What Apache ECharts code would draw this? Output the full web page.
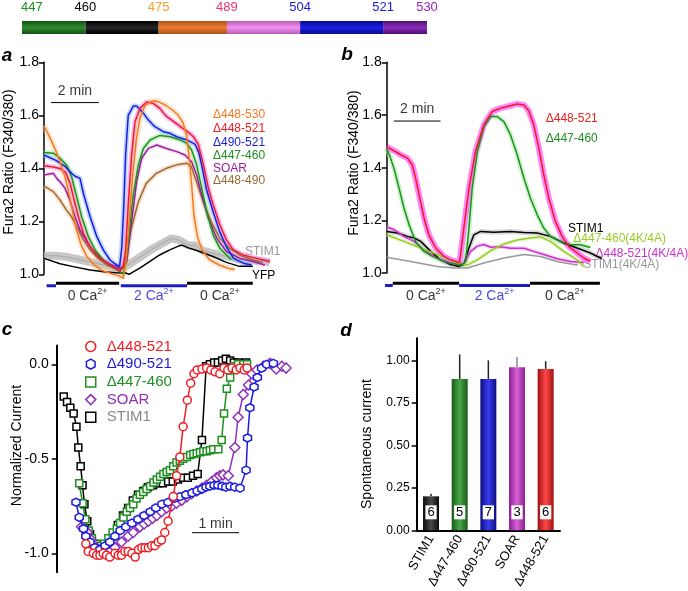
<!DOCTYPE html>
<html><head><meta charset="utf-8">
<script src="https://cdn.jsdelivr.net/npm/echarts@6/dist/echarts.min.js"></script>
<style>html,body{margin:0;padding:0;background:#fff}#c{width:688px;height:591px}</style>
</head><body><div id="c"></div>
<script>
// ================= DATA =================
// Domain map (residue boundaries)
const domainResidues = [447, 460, 475, 489, 504, 521, 530];

// Panel a: Fura2 ratio traces, [time (min), ratio]
const aOrange = [[0,1.56],[0.25,1.515],[0.5,1.465],[0.7,1.415],[0.9,1.36],[1.05,1.30],[1.2,1.235],[1.35,1.17],[1.55,1.11],[1.8,1.065],[2.1,1.035],[2.4,1.015],[2.8,1.003],[3.1,0.995],[3.3,0.985],[3.42,1.05],[3.55,1.2],[3.7,1.38],[3.85,1.51],[4.0,1.59],[4.2,1.635],[4.45,1.652],[4.65,1.655],[4.85,1.648],[5.1,1.636],[5.35,1.62],[5.6,1.6],[5.8,1.57],[5.95,1.52],[6.05,1.44],[6.15,1.34],[6.25,1.22],[6.4,1.14],[6.6,1.09],[6.9,1.055],[7.3,1.035],[7.7,1.022],[7.95,1.018]];
const aRed = [[0,1.41],[0.4,1.405],[0.7,1.398],[0.9,1.385],[1.08,1.345],[1.22,1.293],[1.43,1.217],[1.64,1.155],[1.92,1.104],[2.26,1.066],[2.61,1.042],[2.96,1.023],[3.17,1.012],[3.3,1.03],[3.4,1.09],[3.51,1.262],[3.65,1.45],[3.79,1.576],[4.0,1.626],[4.28,1.65],[4.55,1.645],[4.83,1.626],[5.1,1.596],[5.38,1.578],[5.67,1.558],[5.95,1.54],[6.22,1.52],[6.43,1.49],[6.64,1.413],[6.85,1.325],[7.05,1.262],[7.33,1.186],[7.6,1.13],[7.89,1.092],[8.3,1.073],[8.72,1.063],[9.14,1.054],[9.42,1.048]];
const aBlue = [[0,1.45],[0.5,1.43],[0.9,1.405],[1.15,1.381],[1.3,1.37],[1.5,1.362],[1.64,1.306],[1.92,1.217],[2.2,1.142],[2.47,1.092],[2.75,1.054],[3.03,1.035],[3.15,1.03],[3.24,1.10],[3.32,1.25],[3.4,1.45],[3.51,1.6],[3.72,1.635],[3.86,1.635],[4.0,1.622],[4.14,1.608],[4.35,1.582],[4.62,1.557],[4.97,1.538],[5.25,1.532],[5.53,1.519],[5.95,1.507],[6.3,1.49],[6.45,1.46],[6.6,1.4],[6.77,1.32],[7.05,1.235],[7.32,1.161],[7.6,1.104],[7.9,1.06],[8.3,1.042],[8.65,1.035]];
const aGreen = [[0,1.46],[0.39,1.457],[0.67,1.438],[0.94,1.412],[1.15,1.368],[1.36,1.293],[1.57,1.217],[1.85,1.142],[2.13,1.092],[2.47,1.054],[2.82,1.029],[3.17,1.01],[3.3,1.0],[3.4,1.04],[3.51,1.123],[3.62,1.22],[3.72,1.3],[3.93,1.413],[4.14,1.475],[4.42,1.507],[4.83,1.524],[5.25,1.519],[5.67,1.507],[5.95,1.494],[6.15,1.469],[6.36,1.413],[6.57,1.325],[6.78,1.236],[7.05,1.148],[7.33,1.098],[7.8,1.055]];
const aPurple = [[0,1.375],[0.39,1.381],[0.55,1.36],[0.67,1.349],[0.875,1.325],[1.08,1.28],[1.29,1.217],[1.5,1.167],[1.78,1.123],[2.13,1.079],[2.47,1.054],[2.82,1.035],[3.17,1.023],[3.35,1.03],[3.45,1.048],[3.65,1.199],[3.86,1.35],[4.07,1.438],[4.35,1.475],[4.7,1.488],[5.1,1.475],[5.53,1.463],[5.875,1.45],[6.15,1.425],[6.36,1.375],[6.57,1.3],[6.85,1.211],[7.2,1.136],[7.6,1.086],[8.17,1.06],[8.72,1.048],[9.2,1.035]];
const aBrown = [[0,1.333],[0.39,1.312],[0.67,1.28],[0.93,1.243],[1.15,1.217],[1.36,1.18],[1.64,1.13],[1.92,1.092],[2.26,1.06],[2.61,1.035],[2.96,1.023],[3.24,1.02],[3.35,1.03],[3.43,1.073],[3.64,1.174],[3.93,1.274],[4.26,1.343],[4.68,1.381],[5.1,1.40],[5.53,1.413],[5.95,1.419],[6.14,1.406],[6.35,1.35],[6.63,1.274],[6.97,1.199],[7.32,1.136],[7.74,1.098],[8.15,1.073],[8.7,1.054],[9.1,1.045]];
const aStim1 = [[0,1.07],[0.5,1.07],[1.0,1.065],[1.5,1.055],[2.0,1.045],[2.5,1.035],[3.0,1.025],[3.2,1.02],[3.5,1.035],[4.0,1.065],[4.5,1.095],[5.0,1.12],[5.3,1.135],[5.6,1.13],[6.0,1.11],[6.3,1.11],[6.6,1.09],[7.0,1.08],[7.5,1.07],[8.0,1.06],[8.5,1.055],[9.0,1.05],[9.4,1.045]];
const aYfp = [[0,1.06],[0.67,1.04],[1.22,1.029],[1.92,1.016],[2.5,1.01],[3.0,1.006],[3.4,1.005],[3.55,1.0],[3.7,1.008],[3.99,1.023],[4.4,1.048],[4.82,1.073],[5.24,1.092],[5.65,1.108],[5.75,1.11],[6.07,1.098],[6.49,1.086],[7.04,1.067],[7.6,1.045],[8.15,1.03],[8.7,1.03]];
// Panel a: bath solution protocol [start, end, Ca mM]
const caA = [[0.11,0.5,2],[0.5,3.13,0],[3.2,5.96,2],[5.96,8.7,0]];

// Panel b traces
const bRed = [[0,1.48],[0.3,1.465],[0.6,1.449],[0.89,1.436],[1.1,1.41],[1.24,1.36],[1.39,1.297],[1.6,1.209],[1.81,1.145],[2.1,1.095],[2.46,1.063],[2.74,1.05],[3.03,1.042],[3.12,1.04],[3.17,1.07],[3.31,1.171],[3.53,1.322],[3.81,1.461],[4.17,1.563],[4.53,1.613],[4.89,1.626],[5.31,1.635],[5.6,1.642],[5.89,1.638],[6.1,1.615],[6.31,1.563],[6.53,1.474],[6.74,1.373],[6.96,1.284],[7.24,1.196],[7.53,1.139],[7.81,1.101],[8.17,1.076],[8.46,1.057],[8.74,1.044]];
const bGreen = [[0,1.474],[0.15,1.44],[0.31,1.398],[0.53,1.322],[0.74,1.247],[0.96,1.183],[1.24,1.12],[1.6,1.082],[1.96,1.063],[2.31,1.05],[2.74,1.038],[3.03,1.032],[3.24,1.032],[3.39,1.044],[3.53,1.171],[3.67,1.322],[3.89,1.461],[4.17,1.556],[4.46,1.594],[4.74,1.594],[5.03,1.575],[5.31,1.525],[5.6,1.449],[5.89,1.36],[6.17,1.284],[6.46,1.221],[6.74,1.171],[7.03,1.139],[7.46,1.12],[7.89,1.107],[8.31,1.107],[8.74,1.097]];
const bStim1 = [[0,1.158],[0.46,1.152],[0.89,1.139],[1.17,1.133],[1.46,1.12],[1.89,1.082],[2.31,1.05],[2.74,1.032],[3.1,1.025],[3.31,1.032],[3.53,1.095],[3.74,1.145],[4.03,1.158],[4.6,1.155],[5.31,1.158],[5.89,1.154],[6.46,1.152],[7.03,1.139],[7.6,1.114],[8.17,1.095],[8.74,1.076],[9.24,1.054]];
const b447KA = [[0,1.145],[0.74,1.12],[1.46,1.095],[2.17,1.07],[2.74,1.05],[3.17,1.032],[3.46,1.03],[3.89,1.05],[4.46,1.085],[5.03,1.11],[5.6,1.125],[6.17,1.133],[6.6,1.137],[7.03,1.12],[7.6,1.082],[8.17,1.05],[8.46,1.025]];
const b448KA = [[0,1.175],[0.31,1.165],[0.74,1.139],[1.17,1.12],[1.6,1.088],[2.03,1.063],[2.46,1.044],[2.89,1.034],[3.31,1.035],[3.6,1.082],[3.89,1.102],[4.17,1.108],[4.46,1.098],[4.89,1.1],[5.31,1.094],[5.89,1.094],[6.31,1.082],[6.74,1.07],[7.31,1.054],[7.89,1.044],[8.46,1.04]];
const bStim1KA = [[0,1.06],[1.03,1.044],[2.17,1.025],[2.89,1.019],[3.46,1.019],[4.17,1.038],[5.03,1.057],[5.89,1.07],[6.6,1.063],[7.31,1.044],[8.03,1.032],[8.2,1.03]];
const caB = [[-0.07,0.26,2],[0.26,3.11,0],[3.11,6.15,2],[6.15,9.15,0]];

// Panel c: normalized current, [time (min), current]
const cStim1 = [[0.15,-0.17],[0.22,-0.20],[0.29,-0.23],[0.36,-0.26],[0.42,-0.33],[0.46,-0.44],[0.51,-0.54],[0.55,-0.64],[0.59,-0.74],[0.65,-0.83],[0.71,-0.90],[0.79,-0.95],[0.88,-0.98],[0.99,-0.99],[1.09,-0.96],[1.2,-0.90],[1.3,-0.85],[1.41,-0.80],[1.52,-0.76],[1.62,-0.72],[1.73,-0.69],[1.84,-0.67],[1.94,-0.65],[2.05,-0.64],[2.16,-0.63],[2.26,-0.63],[2.37,-0.62],[2.47,-0.62],[2.58,-0.61],[2.69,-0.60],[2.79,-0.60],[2.9,-0.59],[3.0,-0.58],[3.09,-0.40],[3.18,-0.01],[3.26,0.0],[3.35,0.01],[3.43,0.01],[3.52,0.02],[3.6,0.03],[3.69,0.02],[3.77,0.01],[3.86,0.01],[3.94,0.0],[4.03,0.01]];
const c447 = [[0.48,-0.63],[0.55,-0.735],[0.61,-0.82],[0.68,-0.88],[0.75,-0.92],[0.84,-0.95],[0.92,-0.96],[1.01,-0.95],[1.10,-0.92],[1.19,-0.89],[1.28,-0.87],[1.35,-0.84],[1.42,-0.81],[1.49,-0.78],[1.56,-0.76],[1.63,-0.74],[1.70,-0.71],[1.77,-0.69],[1.84,-0.675],[1.91,-0.66],[1.99,-0.645],[2.06,-0.625],[2.13,-0.61],[2.20,-0.595],[2.27,-0.58],[2.34,-0.57],[2.41,-0.56],[2.48,-0.54],[2.55,-0.52],[2.62,-0.51],[2.69,-0.50],[2.77,-0.49],[2.84,-0.48],[2.91,-0.475],[2.98,-0.47],[3.05,-0.465],[3.12,-0.46],[3.19,-0.46],[3.26,-0.455],[3.33,-0.45],[3.44,-0.45],[3.51,-0.40],[3.56,-0.26],[3.62,-0.13],[3.69,-0.07],[3.77,-0.01],[3.86,0.0],[3.97,0.0],[4.05,0.0]];
const c448 = [[0.62,-0.95],[0.67,-0.99],[0.78,-1.0],[0.85,-1.01],[0.92,-1.01],[0.99,-1.0],[1.06,-1.01],[1.13,-1.02],[1.24,-1.0],[1.31,-1.01],[1.38,-1.01],[1.45,-0.99],[1.52,-0.99],[1.60,-1.0],[1.67,-1.02],[1.74,-0.98],[1.81,-0.97],[1.88,-0.97],[1.95,-0.97],[2.02,-0.96],[2.09,-0.96],[2.16,-0.94],[2.23,-0.93],[2.30,-0.89],[2.37,-0.83],[2.48,-0.70],[2.55,-0.59],[2.62,-0.49],[2.69,-0.33],[2.78,-0.19],[2.85,-0.10],[2.92,-0.05],[2.99,-0.03],[3.09,-0.025],[3.19,-0.02],[3.28,-0.03],[3.37,-0.04],[3.47,-0.05],[3.56,-0.02],[3.64,-0.03],[3.73,-0.02],[3.82,-0.03],[3.90,-0.02],[3.99,-0.03],[4.05,-0.02]];
const c490 = [[0.41,-0.73],[0.48,-0.81],[0.57,-0.87],[0.62,-0.91],[0.71,-0.94],[0.81,-0.97],[0.92,-0.98],[1.03,-0.96],[1.13,-0.94],[1.24,-0.91],[1.35,-0.88],[1.47,-0.86],[1.60,-0.84],[1.73,-0.82],[1.86,-0.80],[1.99,-0.78],[2.11,-0.76],[2.24,-0.74],[2.37,-0.73],[2.50,-0.71],[2.62,-0.70],[2.75,-0.69],[2.88,-0.68],[2.99,-0.67],[3.09,-0.66],[3.18,-0.65],[3.26,-0.645],[3.35,-0.64],[3.43,-0.64],[3.52,-0.645],[3.60,-0.65],[3.69,-0.645],[3.79,-0.65],[3.90,-0.655],[4.03,-0.56],[4.06,-0.39],[4.11,-0.23],[4.20,-0.12],[4.27,-0.07],[4.36,-0.02],[4.47,0.0],[4.61,0.005]];
const cSoar = [[0.53,-0.86],[0.59,-0.875],[0.65,-0.89],[0.74,-0.93],[0.85,-0.97],[0.99,-0.98],[1.13,-0.99],[1.24,-0.97],[1.38,-0.94],[1.52,-0.91],[1.63,-0.89],[1.77,-0.86],[1.86,-0.845],[1.95,-0.83],[2.04,-0.815],[2.13,-0.80],[2.23,-0.78],[2.34,-0.76],[2.45,-0.75],[2.55,-0.735],[2.66,-0.72],[2.77,-0.70],[2.87,-0.685],[2.98,-0.67],[3.09,-0.655],[3.19,-0.64],[3.30,-0.62],[3.40,-0.60],[3.47,-0.59],[3.54,-0.585],[3.65,-0.59],[3.79,-0.44],[3.86,-0.28],[3.97,-0.16],[4.08,-0.11],[4.15,-0.05],[4.26,-0.03],[4.40,-0.01],[4.54,0.005],[4.67,-0.025],[4.79,-0.01],[4.88,-0.02]];

// Panel d: spontaneous current
const dCategories = ['STIM1', 'Δ447-460', 'Δ490-521', 'SOAR', 'Δ448-521'];
const dMean = [0.20, 0.89, 0.89, 0.96, 0.95];
const dErr = [0.015, 0.145, 0.11, 0.06, 0.045];
const dN = [6, 5, 7, 3, 6];

// ================= STYLE / LAYOUT =================
const FONT = '"Liberation Sans", Arial, Helvetica, sans-serif';
const BLUE = '#1c1cc8';
const segMid = ['#2e8b2e', '#262626', '#ee7c2e', '#f092ee', '#1e1ee8', '#8c2cbc'];
const segDark = ['#145214', '#000000', '#a95017', '#b85ab8', '#0a0a8a', '#4e1070'];
const labColors = ['#1e8c1e', '#000000', '#f5a030', '#f0306e', '#1a1ad6', '#1a1ad6', '#9b1fc0'];

function grad(dark, mid, vertical) {
  return new echarts.graphic.LinearGradient(0, 0, vertical ? 0 : 1, vertical ? 1 : 0,
    [{offset: 0, color: dark}, {offset: 0.5, color: mid}, {offset: 1, color: dark}]);
}

const series = [];

// ---- domain bar ----
series.push({
  type: 'custom', xAxisIndex: 0, yAxisIndex: 0, silent: true,
  data: domainResidues.slice(0, -1).map((r, i) => [r, domainResidues[i + 1], i]),
  renderItem(params, api) {
    const i = api.value(2);
    const p0 = api.coord([api.value(0), 1]);
    const p1 = api.coord([api.value(1), 0]);
    return {type: 'rect', shape: {x: p0[0], y: p0[1], width: p1[0] - p0[0], height: p1[1] - p0[1]},
      style: {fill: grad(segDark[i], segMid[i], true)}};
  }
});
series.push({
  type: 'custom', xAxisIndex: 0, yAxisIndex: 0, silent: true,
  data: domainResidues.map((r, i) => [r, i]),
  renderItem(params, api) {
    const i = api.value(1);
    const p = api.coord([api.value(0), 1]);
    return {type: 'text', x: p[0] + (i === 0 ? -1 : 0), y: p[1] - 13.5,
      style: {text: String(api.value(0)), fill: labColors[i], font: '13px ' + FONT,
        align: i === 0 ? 'left' : 'center', verticalAlign: 'middle'}};
  }
});

// ---- trace helper ----
function trace(ax, data, color, width, halo, haloWidth) {
  if (halo) series.push({type: 'line', xAxisIndex: ax, yAxisIndex: ax, data, symbol: 'none', clip: false, silent: true,
    lineStyle: {color: halo, width: haloWidth}, z: 2});
  series.push({type: 'line', xAxisIndex: ax, yAxisIndex: ax, data, symbol: 'none', clip: false, silent: true,
    lineStyle: {color, width}, z: 3});
}
trace(1, aStim1, '#a9a9a9', 1, 'rgba(185,185,185,0.8)', 8);
trace(1, aYfp, '#000', 1.5);
trace(1, aBrown, '#9a6a35', 1.5, 'rgba(245,195,160,0.5)', 5);
trace(1, aPurple, '#98209c', 1.5, 'rgba(235,165,235,0.4)', 4);
trace(1, aGreen, '#1f8f1f', 1.5, 'rgba(160,235,160,0.55)', 5);
trace(1, aBlue, '#1c1ce0', 1.5, 'rgba(130,175,255,0.5)', 5);
trace(1, aRed, '#ee1d23', 1.5, 'rgba(255,130,235,0.55)', 5);
trace(1, aOrange, '#f47a20', 1.5, 'rgba(250,195,150,0.4)', 6);

trace(2, bStim1KA, '#999', 1.5);
trace(2, bStim1, '#000', 1.5, 'rgba(190,190,190,0.6)', 5);
trace(2, b448KA, '#cc30cc', 1.5, 'rgba(235,150,235,0.45)', 4);
trace(2, b447KA, '#99cc22', 1.5, 'rgba(200,235,150,0.45)', 4);
trace(2, bGreen, '#1f8f1f', 1.5, 'rgba(160,235,160,0.55)', 5);
trace(2, bRed, '#f01d1d', 1.5, 'rgba(255,80,255,0.7)', 6);

// ---- Ca protocol bars ----
function caBars(ax, segs, yBlack, yBlue, yLabel) {
  segs.forEach(([s, e, c]) => {
    const y = c ? yBlue : yBlack;
    const col = c ? BLUE : '#000';
    series.push({type: 'line', xAxisIndex: ax, yAxisIndex: ax, data: [[s, y], [e, y]], clip: false, symbol: 'none', silent: true,
      lineStyle: {color: col, width: 3}, z: 5});
    if (e - s > 1) series.push({type: 'scatter', xAxisIndex: ax, yAxisIndex: ax, data: [[(s + e) / 2, yLabel]], clip: false,
      symbolSize: 0, silent: true,
      label: {show: true, position: 'inside', formatter: '{a|' + c + ' Ca}{s|2+}',
        rich: {a: {fontSize: 14, fontFamily: FONT, color: col, lineHeight: 18},
               s: {fontSize: 9, fontFamily: FONT, color: col, verticalAlign: 'top', lineHeight: 10}}}});
  });
}
caBars(1, caA, 0.966, 0.957, 0.918);
caBars(2, caB, 0.961, 0.953, 0.913);

// ---- scale bars ----
function scaleBar(ax, x0, len, y, yText, text) {
  series.push({type: 'line', xAxisIndex: ax, yAxisIndex: ax, data: [[x0, y], [x0 + len, y]], clip: false, symbol: 'none', silent: true,
    lineStyle: {color: '#000', width: 1}, z: 5});
  series.push({type: 'scatter', xAxisIndex: ax, yAxisIndex: ax, data: [[x0 + len / 2, yText]], clip: false, symbolSize: 0, silent: true,
    label: {show: true, position: 'inside', formatter: text, fontSize: 14, fontFamily: FONT, color: '#000'}});
}
scaleBar(1, 0.29, 2, 1.648, 1.692, '2 min');
scaleBar(2, 0.31, 2, 1.577, 1.624, '2 min');
scaleBar(3, 2.88, 1, -0.891, -0.845, '1 min');

// ---- panel c ----
const hexPath = 'path://M0,-10L8.66,-5L8.66,5L0,10L-8.66,5L-8.66,-5Z';
const cDefs = [
  {name: 'STIM1', data: cStim1, color: '#000', symbol: 'rect', size: 7},
  {name: 'Δ447-460', data: c447, color: '#1f8f1f', symbol: 'rect', size: 7},
  {name: 'SOAR', data: cSoar, color: '#9030b8', symbol: 'diamond', size: 10},
  {name: 'Δ490-521', data: c490, color: '#1c1ce0', symbol: hexPath, size: 8},
  {name: 'Δ448-521', data: c448, color: '#ee1d23', symbol: 'circle', size: 8}
];
cDefs.forEach((d, k) => series.push({
  type: 'line', name: d.name, xAxisIndex: 3, yAxisIndex: 3, data: d.data, clip: false,
  symbol: d.symbol, symbolSize: d.size, showSymbol: true, showAllSymbol: true,
  lineStyle: {color: d.color, width: 1.5}, itemStyle: {color: '#fff', borderColor: d.color, borderWidth: 1.5},
  z: 3 + k, silent: true
}));

// ---- panel d ----
const barEdge = ['#0a0a0a', '#1a5a1a', '#0c0c80', '#8a2090', '#a01010'];
const barMid = ['#4a4a4a', '#45a845', '#3c3cf0', '#d860d8', '#ff4848'];
series.push({
  type: 'bar', xAxisIndex: 4, yAxisIndex: 4, barWidth: 16, silent: true,
  data: dMean.map((v, i) => ({value: v, itemStyle: {color: grad(barEdge[i], barMid[i], false)}})),
  label: {show: true, position: 'insideBottom', distance: 11, formatter: p => String(dN[p.dataIndex]),
    backgroundColor: '#fff', padding: [1, 2, 0, 2], color: '#000', fontSize: 13, fontFamily: FONT}
});
series.push({
  type: 'custom', xAxisIndex: 4, yAxisIndex: 4, silent: true, z: 1,
  data: dMean.map((v, i) => [i, v, v + dErr[i]]),
  renderItem(params, api) {
    const a = api.coord([api.value(0), api.value(1)]);
    const b = api.coord([api.value(0), api.value(2)]);
    return {type: 'line', shape: {x1: a[0], y1: a[1], x2: b[0], y2: b[1]},
      style: {stroke: params.dataIndex === 3 ? '#888' : '#222', lineWidth: 1.5}};
  }
});

// ---- axes ----
const axLine = {show: true, lineStyle: {color: '#000', width: 1.5}};
const tick = {show: true, inside: false, length: 5, lineStyle: {color: '#000', width: 1.5}};
function fura(grid) {
  return {gridIndex: grid, type: 'value', min: 1.0, max: 1.8, interval: 0.2,
    axisLine: axLine, axisTick: tick, splitLine: {show: false},
    axisLabel: {fontSize: 14, fontFamily: FONT, color: '#000', margin: 5, formatter: v => v.toFixed(1)}};
}

const option = {
  animation: false,
  backgroundColor: '#fff',
  textStyle: {fontFamily: FONT},
  grid: [
    {left: 22, top: 21, width: 405, height: 13},
    {left: 44, top: 62.3, width: 240, height: 212},
    {left: 386.7, top: 62.3, width: 233, height: 210.7},
    {left: 56.7, top: 345.4, width: 235, height: 226.8},
    {left: 416.7, top: 338.3, width: 143.3, height: 194.4}
  ],
  xAxis: [
    {gridIndex: 0, type: 'value', min: 447, max: 530, show: false},
    {gridIndex: 1, type: 'value', min: 0, max: 10, show: false},
    {gridIndex: 2, type: 'value', min: 0, max: 10, show: false},
    {gridIndex: 3, type: 'value', min: 0, max: 5, show: false},
    {gridIndex: 4, type: 'category', data: dCategories,
      axisLine: {show: true, lineStyle: {color: '#000', width: 2}}, axisTick: {show: false},
      axisLabel: {rotate: 60, interval: 0, fontSize: 13, fontFamily: FONT, color: '#000', margin: 6}}
  ],
  yAxis: [
    {gridIndex: 0, type: 'value', min: 0, max: 1, show: false},
    fura(1), fura(2),
    {gridIndex: 3, type: 'value', min: -1.1, max: 0.1,
      axisLine: {show: true, lineStyle: {color: '#000', width: 2}},
      axisTick: Object.assign({}, tick, {customValues: [0, -0.5, -1.0]}), splitLine: {show: false},
      axisLabel: {customValues: [0, -0.5, -1.0], fontSize: 14, fontFamily: FONT, color: '#000', margin: 8,
        formatter: v => v.toFixed(1)}},
    {gridIndex: 4, type: 'value', min: 0, max: 1.13,
      axisLine: {show: true, lineStyle: {color: '#000', width: 2}},
      axisTick: Object.assign({}, tick, {customValues: [0, 0.25, 0.5, 0.75, 1.0]}), splitLine: {show: false},
      axisLabel: {customValues: [0, 0.25, 0.5, 0.75, 1.0], fontSize: 12, fontFamily: FONT, color: '#000', margin: 7,
        formatter: v => v.toFixed(2)}}
  ],
  legend: {
    orient: 'vertical', left: 80, top: 333.5, itemWidth: 10, itemHeight: 10, itemGap: 1.7, selectedMode: false,
    textStyle: {fontFamily: FONT, fontSize: 15, lineHeight: 16, padding: [0, 0, 0, 6]},
    data: [
      {name: 'Δ448-521', icon: 'circle', itemStyle: {color: '#fff', borderColor: '#ee1d23', borderWidth: 1.5}, textStyle: {color: '#ee1d23'}},
      {name: 'Δ490-521', icon: hexPath, itemStyle: {color: '#fff', borderColor: '#1c1ce0', borderWidth: 1.5}, textStyle: {color: '#1c1ce0'}},
      {name: 'Δ447-460', icon: 'rect', itemStyle: {color: '#fff', borderColor: '#1f8f1f', borderWidth: 1.5}, textStyle: {color: '#1f8f1f'}},
      {name: 'SOAR', icon: 'diamond', itemStyle: {color: '#fff', borderColor: '#9030b8', borderWidth: 1.5}, textStyle: {color: '#9030b8'}},
      {name: 'STIM1', icon: 'rect', itemStyle: {color: '#fff', borderColor: '#000', borderWidth: 1.5}, textStyle: {color: '#888'}}
    ]
  },
  graphic: [
    // panel letters
    {type: 'text', x: 7, y: 56, style: {text: 'a', font: 'italic bold 19px ' + FONT, fill: '#000', align: 'center', verticalAlign: 'middle'}},
    {type: 'text', x: 347, y: 55, style: {text: 'b', font: 'italic bold 19px ' + FONT, fill: '#000', align: 'center', verticalAlign: 'middle'}},
    {type: 'text', x: 7, y: 330, style: {text: 'c', font: 'italic bold 19px ' + FONT, fill: '#000', align: 'center', verticalAlign: 'middle'}},
    {type: 'text', x: 346, y: 331, style: {text: 'd', font: 'italic bold 19px ' + FONT, fill: '#000', align: 'center', verticalAlign: 'middle'}},
    // y axis titles
    {type: 'text', x: 9.5, y: 162, rotation: Math.PI / 2, style: {text: 'Fura2 Ratio (F340/380)', font: '14px ' + FONT, fill: '#000', align: 'center', verticalAlign: 'middle'}},
    {type: 'text', x: 354, y: 163, rotation: Math.PI / 2, style: {text: 'Fura2 Ratio (F340/380)', font: '14px ' + FONT, fill: '#000', align: 'center', verticalAlign: 'middle'}},
    {type: 'text', x: 16.7, y: 445.5, rotation: Math.PI / 2, style: {text: 'Normalized Current', font: '14px ' + FONT, fill: '#000', align: 'center', verticalAlign: 'middle'}},
    {type: 'text', x: 367.5, y: 444, rotation: Math.PI / 2, style: {text: 'Spontaneous current', font: '14px ' + FONT, fill: '#000', align: 'center', verticalAlign: 'middle'}},
    // panel a trace labels
    {type: 'text', x: 213, y: 115, style: {text: 'Δ448-530', font: '12px ' + FONT, fill: '#f47a20', verticalAlign: 'middle'}},
    {type: 'text', x: 213, y: 129, style: {text: 'Δ448-521', font: '12px ' + FONT, fill: '#ee1d23', verticalAlign: 'middle'}},
    {type: 'text', x: 213, y: 142.7, style: {text: 'Δ490-521', font: '12px ' + FONT, fill: '#1c1cd0', verticalAlign: 'middle'}},
    {type: 'text', x: 213, y: 155.5, style: {text: 'Δ447-460', font: '12px ' + FONT, fill: '#1f8f1f', verticalAlign: 'middle'}},
    {type: 'text', x: 213, y: 168.3, style: {text: 'SOAR', font: '12px ' + FONT, fill: '#98209c', verticalAlign: 'middle'}},
    {type: 'text', x: 213, y: 180.7, style: {text: 'Δ448-490', font: '12px ' + FONT, fill: '#9a6a35', verticalAlign: 'middle'}},
    {type: 'text', x: 245, y: 251.7, style: {text: 'STIM1', font: '12px ' + FONT, fill: '#999', verticalAlign: 'middle'}},
    {type: 'text', x: 252, y: 275.7, style: {text: 'YFP', font: '12px ' + FONT, fill: '#000', verticalAlign: 'middle'}},
    // panel b trace labels
    {type: 'text', x: 545.7, y: 118.3, style: {text: 'Δ448-521', font: '12px ' + FONT, fill: '#f01d1d', verticalAlign: 'middle'}},
    {type: 'text', x: 545.7, y: 138.3, style: {text: 'Δ447-460', font: '12px ' + FONT, fill: '#1f8f1f', verticalAlign: 'middle'}},
    {type: 'text', x: 568, y: 228.3, style: {text: 'STIM1', font: '12px ' + FONT, fill: '#000', verticalAlign: 'middle'}},
    {type: 'text', x: 573.3, y: 238.3, style: {text: 'Δ447-460(4K/4A)', font: '12px ' + FONT, fill: '#99cc22', verticalAlign: 'middle'}},
    {type: 'text', x: 595.5, y: 253.3, style: {text: 'Δ448-521(4K/4A)', font: '12px ' + FONT, fill: '#cc30cc', verticalAlign: 'middle'}},
    {type: 'text', x: 583.3, y: 264.3, style: {text: 'STIM1(4K/4A)', font: '12px ' + FONT, fill: '#999', verticalAlign: 'middle'}}
  ],
  series
};

const chart = echarts.init(document.getElementById('c'), null, {renderer: 'canvas'});
chart.setOption(option);
</script></body></html>
